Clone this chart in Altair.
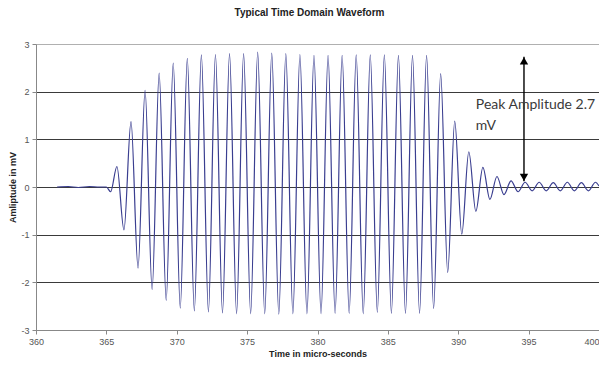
import altair as alt
import pandas as pd

# Flat baseline before the burst (time in µs, amplitude in mV)
baseline_t = [361.5, 362.3, 363.0, 363.8, 364.5, 365.0, 365.3]
baseline_v = [0.0, 0.01, -0.01, 0.01, 0.0, 0.0, -0.10]

# Positive peaks of the waveform
peak_t = [365.75, 366.75, 367.75, 368.75, 369.75, 370.75, 371.75, 372.75,
          373.75, 374.75, 375.75, 376.75, 377.75, 378.75, 379.75, 380.75,
          381.75, 382.75, 383.75, 384.75, 385.75, 386.75, 387.75, 388.75,
          389.75, 390.75, 391.75, 392.75, 393.75, 394.75, 395.75, 396.75,
          397.75, 398.75, 399.75]
peak_v = [0.43, 1.37, 2.03, 2.39, 2.60, 2.70, 2.77, 2.78,
          2.80, 2.80, 2.83, 2.81, 2.80, 2.78, 2.76, 2.76,
          2.76, 2.77, 2.77, 2.77, 2.76, 2.76, 2.76, 2.38,
          1.38, 0.74, 0.41, 0.22, 0.13, 0.10, 0.10, 0.09,
          0.10, 0.09, 0.10]

# Negative troughs of the waveform
trough_t = [366.25, 367.25, 368.25, 369.25, 370.25, 371.25, 372.25, 373.25,
            374.25, 375.25, 376.25, 377.25, 378.25, 379.25, 380.25, 381.25,
            382.25, 383.25, 384.25, 385.25, 386.25, 387.25, 388.25, 389.25,
            390.25, 391.25, 392.25, 393.25, 394.25, 395.25, 396.25, 397.25,
            398.25, 399.25, 400.0]
trough_v = [-0.90, -1.70, -2.15, -2.38, -2.54, -2.60, -2.62, -2.64,
            -2.66, -2.66, -2.66, -2.67, -2.66, -2.66, -2.66, -2.65,
            -2.65, -2.66, -2.63, -2.65, -2.65, -2.65, -2.55, -1.79,
            -0.99, -0.51, -0.26, -0.16, -0.10, -0.08, -0.08, -0.08,
            -0.08, -0.08, 0.02]

# Annotation
arrow_t = [394.67]
arrow_low = [0.12]
arrow_high = [2.73]
label_t = [391.25]
label_lines = ["Peak Amplitude 2.7", "mV"]
label_v = [1.64, 1.19]

x_ticks = [360, 365, 370, 375, 380, 385, 390, 395, 400]
y_ticks = [-3, -2, -1, 0, 1, 2, 3]

wave = pd.DataFrame({
    "t": baseline_t + peak_t + trough_t,
    "v": baseline_v + peak_v + trough_v,
}).sort_values("t")

arrow_df = pd.DataFrame({"t": arrow_t, "lo": arrow_low, "hi": arrow_high})
text_df = pd.DataFrame({"t": label_t * 2, "v": label_v, "txt": label_lines})

xscale = alt.Scale(domain=[360, 400], nice=False, zero=False)
yscale = alt.Scale(domain=[-3, 3], nice=False)

xaxis = alt.Axis(values=x_ticks, title="Time in micro-seconds", grid=False,
                 labelExpr="'' + datum.value",
                 labelAlign=alt.condition("datum.value === 400", alt.value("right"), alt.value("center")),
                 labelFont="Liberation Sans", labelFontSize=9, labelColor="#555555",
                 titleFont="Liberation Sans", titleFontSize=9, titleFontWeight="bold",
                 titleColor="#222222", tickSize=4, tickColor="#888888",
                 domainColor="#888888", labelPadding=3, titleY=23,
                 titleBaseline="middle", labelFlush=False)
yaxis = alt.Axis(values=y_ticks, title="Amliptude in mV",
                 labelExpr="'' + datum.value",
                 grid=True,
                 gridColor=alt.condition("datum.value === 3", alt.value("#b0b0b0"), alt.value("#3a3a3a")),
                 gridWidth=1,
                 labelFont="Liberation Sans", labelFontSize=9, labelColor="#555555",
                 titleFont="Liberation Sans", titleFontSize=9, titleFontWeight="bold",
                 titleColor="#222222", tickSize=4, tickColor="#888888",
                 domainColor="#888888", labelPadding=3,
                 titleAngle=-90, titleX=-24, titleY=143, titleAlign="center",
                 titleBaseline="middle")

line = alt.Chart(wave).mark_line(
    color="#3a3e90", strokeWidth=1.2, interpolate="monotone"
).encode(
    x=alt.X("t:Q", scale=xscale, axis=xaxis),
    y=alt.Y("v:Q", scale=yscale, axis=yaxis),
)

rule = alt.Chart(arrow_df).mark_rule(color="black", strokeWidth=1.4).encode(
    x="t:Q", y="lo:Q", y2="hi:Q"
)
head_top = alt.Chart(arrow_df).mark_point(
    shape="triangle-up", filled=True, color="black", size=70, opacity=1, yOffset=4
).encode(x="t:Q", y="hi:Q")
head_bot = alt.Chart(arrow_df).mark_point(
    shape="triangle-down", filled=True, color="black", size=70, opacity=1, yOffset=-4
).encode(x="t:Q", y="lo:Q")

label = alt.Chart(text_df).mark_text(
    align="left", baseline="alphabetic", font="Lato", fontSize=14, color="#3a3a3a"
).encode(x="t:Q", y="v:Q", text="txt:N")

chart = alt.layer(line, rule, head_top, head_bot, label).properties(
    width=563, height=286,
    title=alt.TitleParams("Typical Time Domain Waveform", font="Liberation Sans",
                          fontSize=10, fontWeight="bold", color="#222222",
                          anchor="middle", offset=22, dx=-8),
    autosize=alt.AutoSizeParams(type="none"),
    padding={"left": 28, "top": 36, "right": 0, "bottom": 27},
).configure_view(stroke="#a0a0a0", strokeWidth=1).configure(background="white")

chart.save("out.html", embed_options={"renderer": "svg", "actions": False})
